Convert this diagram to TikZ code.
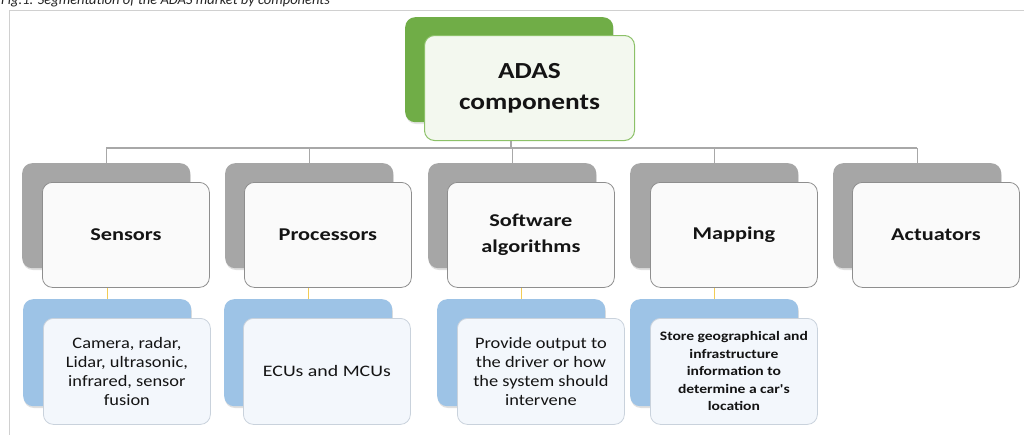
\documentclass[tikz,border=0pt]{standalone}
\usepackage{fontspec}
\setmainfont{Carlito}
\newfontfamily\rootfont[FakeStretch=1.19]{Carlito}
\newfontfamily\labelfont[FakeStretch=1.24]{Carlito}
\newfontfamily\detailfont[FakeStretch=1.15]{Carlito}
\newfontfamily\mapfont[FakeStretch=1.2]{Carlito}
\usetikzlibrary{shadows,calc}

\definecolor{inkcol}{HTML}{141414}
\definecolor{framecol}{HTML}{D0D0D0}
\definecolor{greyback}{HTML}{A6A6A6}
\definecolor{greyedge}{HTML}{8E8E8E}
\definecolor{greyfill}{HTML}{FAFAFA}
\definecolor{greenback}{HTML}{70AD47}
\definecolor{greenedge}{HTML}{8CC168}
\definecolor{greenfill}{HTML}{F3F8EF}
\definecolor{blueback}{HTML}{9DC3E6}
\definecolor{blueedge}{HTML}{C9D2DC}
\definecolor{bluefill}{HTML}{F3F7FC}
\definecolor{linkgrey}{HTML}{A8A8A8}
\definecolor{linkgold}{HTML}{F2CC55}

\tikzset{
  box/.style={anchor=north west, rounded corners=10pt, inner sep=0pt, align=center, text=inkcol},
  backbox/.style={box, draw=none, drop shadow={opacity=0.25, shadow xshift=0.6pt, shadow yshift=-1.8pt}},
  greyback/.style={backbox, fill=greyback, minimum width=168pt, minimum height=105pt},
  blueback/.style={backbox, fill=blueback, minimum width=168pt, minimum height=107pt},
  greyfront/.style={box, draw=greyedge, line width=0.8pt, fill=greyfill,
    minimum width=167pt, minimum height=105pt, font=\labelfont\fontsize{18}{26}\selectfont\bfseries},
  bluefront/.style={box, draw=blueedge, line width=0.8pt, fill=bluefill,
    minimum width=167pt, minimum height=106pt, font=\detailfont\fontsize{16}{19}\selectfont},
  conn/.style={draw=linkgrey, line width=1.1pt},
  detaillink/.style={draw=linkgold, line width=1pt},
}

\begin{document}
\begin{tikzpicture}[x=1pt, y=-1pt]
\useasboundingbox (0,0) rectangle (1024,434);
\clip (0,0) rectangle (1024,434);
\fill[white] (0,0) rectangle (1024,434);

% caption and frame of the figure
\node[anchor=base west, inner sep=0pt, text=black!85, font=\fontsize{14.5}{16}\selectfont\itshape]
  (caption) at (1,4) {Fig.1: Segmentation of the ADAS market by components};
\draw[framecol, line width=0.9pt] (9.5,460) |- (1060,10.5);

% root
\node[box, fill=greenback, minimum width=208pt, minimum height=105pt,
  drop shadow={opacity=0.2, shadow xshift=0.6pt, shadow yshift=-1.8pt}] (rootback) at (405,17) {};
\node[box, draw=greenedge, line width=1pt, fill=greenfill, minimum width=210pt, minimum height=105pt,
  font=\rootfont\fontsize{23}{31}\selectfont\bfseries] (root) at (424,35) {ADAS\\components};

% component level
\node[greyback] (sensback) at (22,163) {};
\node[greyfront] (sens) at (42,182) {Sensors};
\node[greyback] (procback) at (225,163) {};
\node[greyfront] (proc) at (244,182) {Processors};
\node[greyback] (softback) at (428,163) {};
\node[greyfront] (soft) at (447,182) {Software\\algorithms};
\node[greyback] (mapback) at (630,163) {};
\node[greyfront] (map) at (650,182) {Mapping};
\node[greyback] (actback) at (833,163) {};
\node[greyfront] (act) at (852,182) {Actuators};

% detail level
\node[blueback] (sensdetback) at (23,299) {};
\node[bluefront] (sensdet) at (43,318)
  {Camera, radar,\\Lidar, ultrasonic,\\infrared, sensor\\fusion};
\node[blueback] (procdetback) at (224,299) {};
\node[bluefront, font=\labelfont\fontsize{16}{19}\selectfont] (procdet) at (243,318) {ECUs and MCUs};
\node[blueback] (softdetback) at (437,299) {};
\node[bluefront] (softdet) at (457,318) {Provide output to\\the driver or how\\the system should\\intervene};
\node[blueback] (mapdetback) at (630,299) {};
\node[bluefront, font=\mapfont\fontsize{13}{17.5}\selectfont\bfseries] (mapdet) at (650,318)
  {Store geographical and\\infrastructure\\information to\\determine a car's\\location};

% tree connectors
\coordinate (hub) at (511,148);
\draw[conn] (hub |- root.south) -- (hub);
\draw[conn] (sensback.north |- hub) -- (actback.north |- hub);
\foreach \n in {sensback,procback,softback,mapback,actback}
  \draw[conn] (\n.north |- hub) -- (\n.north);

\draw[detaillink] (sensdetback.north |- sens.south) -- (sensdetback.north);
\draw[detaillink] (procdetback.north |- proc.south) -- (procdetback.north);
\draw[detaillink] (softdetback.north |- soft.south) -- (softdetback.north);
\draw[detaillink] (mapdetback.north |- map.south) -- (mapdetback.north);
\end{tikzpicture}
\end{document}
